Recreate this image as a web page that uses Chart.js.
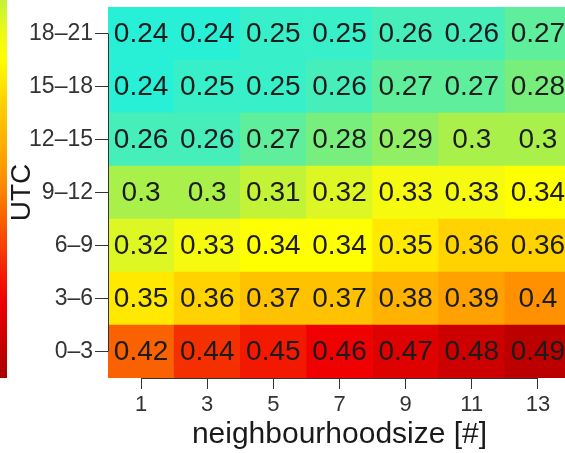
<!DOCTYPE html>
<html>
<head>
<meta charset="utf-8">
<script src="https://cdn.jsdelivr.net/npm/chart.js@4/dist/chart.umd.min.js"></script>
<style>
  html, body { margin: 0; padding: 0; background: #fff; overflow: hidden; }
  #wrap { width: 580px; height: 453px; position: relative; }
</style>
</head>
<body>
<div id="wrap"><canvas id="heat"></canvas></div>
<script>
// Neighbourhood sizes (x) and UTC time bands (y, bottom to top)
const sizes = ['1', '3', '5', '7', '9', '11', '13'];
const utcBands = ['0–3', '3–6', '6–9', '9–12', '12–15', '15–18', '18–21'];

// Score per UTC band, one value per neighbourhood size
const utc0_3   = [0.42, 0.44, 0.45, 0.46, 0.47, 0.48, 0.49];
const utc3_6   = [0.35, 0.36, 0.37, 0.37, 0.38, 0.39, 0.4];
const utc6_9   = [0.32, 0.33, 0.34, 0.34, 0.35, 0.36, 0.36];
const utc9_12  = [0.3, 0.3, 0.31, 0.32, 0.33, 0.33, 0.34];
const utc12_15 = [0.26, 0.26, 0.27, 0.28, 0.29, 0.3, 0.3];
const utc15_18 = [0.24, 0.25, 0.25, 0.26, 0.27, 0.27, 0.28];
const utc18_21 = [0.24, 0.24, 0.25, 0.25, 0.26, 0.26, 0.27];

const rows = [utc0_3, utc3_6, utc6_9, utc9_12, utc12_15, utc15_18, utc18_21];

const FONT = '"Liberation Sans", Arial, Helvetica, sans-serif';

// Colour ramp: cyan -> green -> yellow -> orange -> red -> dark red
const rampStops = [
  [0.24, [40, 240, 215]],
  [0.26, [70, 238, 185]],
  [0.28, [120, 238, 125]],
  [0.30, [170, 240, 75]],
  [0.33, [245, 250, 15]],
  [0.34, [255, 255, 0]],
  [0.36, [255, 210, 0]],
  [0.40, [255, 145, 0]],
  [0.46, [240, 0, 0]],
  [0.50, [170, 0, 0]]
];
function colourFor(v) {
  if (v <= rampStops[0][0]) return `rgb(${rampStops[0][1].join(',')})`;
  for (let k = 1; k < rampStops.length; k++) {
    const [v1, c1] = rampStops[k];
    const [v0, c0] = rampStops[k - 1];
    if (v <= v1) {
      const t = (v - v0) / (v1 - v0);
      const c = c0.map((a, j) => Math.round(a + (c1[j] - a) * t));
      return `rgb(${c.join(',')})`;
    }
  }
  return `rgb(${rampStops[rampStops.length - 1][1].join(',')})`;
}

// Value written in the middle of every cell
const cellLabels = {
  id: 'cellLabels',
  afterDatasetsDraw(chart) {
    const ctx = chart.ctx;
    ctx.save();
    ctx.font = `28px ${FONT}`;
    ctx.fillStyle = '#1c1c1c';
    ctx.textAlign = 'center';
    ctx.textBaseline = 'middle';
    chart.data.datasets.forEach((ds, r) => {
      chart.getDatasetMeta(r).data.forEach((bar, i) => {
        const cy = (bar.y + bar.base) / 2;
        ctx.fillText(String(rows[r][i]), bar.x, cy + 1);
      });
    });
    ctx.restore();
  }
};

// Axis lines running only between the outermost ticks
const axisLines = {
  id: 'axisLines',
  afterDraw(chart) {
    const { ctx, chartArea, scales } = chart;
    const xs = scales.x, ys = scales.y;
    ctx.save();
    ctx.strokeStyle = '#333';
    ctx.lineWidth = 1;
    ctx.beginPath();
    const yTop = ys.getPixelForValue(ys.ticks[ys.ticks.length - 1].value);
    const yBot = ys.getPixelForValue(ys.ticks[0].value);
    ctx.moveTo(chartArea.left + 0.5, yTop);
    ctx.lineTo(chartArea.left + 0.5, yBot);
    const xL = xs.getPixelForValue(0);
    const xR = xs.getPixelForValue(sizes.length - 1);
    ctx.moveTo(xL, chartArea.bottom + 0.5);
    ctx.lineTo(xR, chartArea.bottom + 0.5);
    ctx.stroke();
    ctx.restore();
  }
};

// Narrow colour-scale strip along the left edge
const scaleStrip = {
  id: 'scaleStrip',
  beforeDatasetsDraw(chart) {
    const { ctx, chartArea } = chart;
    const top = 0, bottom = chartArea.bottom;
    const g = ctx.createLinearGradient(0, top, 0, bottom);
    const hi = 0.31, lo = 0.50;
    for (let s = 0; s <= 20; s++) {
      const t = s / 20;
      g.addColorStop(t, colourFor(hi + (lo - hi) * t));
    }
    ctx.save();
    ctx.fillStyle = g;
    ctx.fillRect(0, top, 7, bottom - top);
    ctx.restore();
  }
};

new Chart(document.getElementById('heat'), {
  type: 'bar',
  data: {
    labels: sizes,
    datasets: rows.map((vals, r) => ({
      label: utcBands[r],
      data: vals.map(() => [r, r + 1]),
      backgroundColor: vals.map(colourFor),
      borderWidth: 0,
      grouped: false,
      barPercentage: 1,
      categoryPercentage: 1
    }))
  },
  options: {
    responsive: true,
    maintainAspectRatio: false,
    animation: false,
    devicePixelRatio: 1,
    layout: { padding: { top: 7, right: 9, bottom: 0, left: 0 } },
    plugins: {
      legend: { display: false },
      tooltip: { enabled: false }
    },
    scales: {
      x: {
        type: 'category',
        offset: true,
        grid: {
          display: true,
          drawOnChartArea: false,
          drawTicks: true,
          tickLength: 11,
          color: '#333',
          offset: false
        },
        border: { display: false },
        ticks: {
          font: { family: FONT, size: 22 },
          color: '#333',
          padding: 3,
          maxRotation: 0
        },
        title: {
          display: true,
          text: 'neighbourhoodsize [#]',
          font: { family: FONT, size: 30 },
          color: '#1a1a1a',
          padding: { top: 0, bottom: 0 }
        },
        afterFit(scale) {
          scale.height = 75;
          scale.paddingLeft = 0;
          scale.paddingRight = 0;
        }
      },
      y: {
        type: 'linear',
        min: 0,
        max: 7,
        afterBuildTicks(scale) {
          scale.ticks = utcBands.map((_, i) => ({ value: i + 0.5 }));
        },
        ticks: {
          callback: (value, index) => utcBands[index],
          font: { family: FONT, size: 23 },
          color: '#333',
          padding: 2
        },
        grid: {
          drawOnChartArea: false,
          drawTicks: true,
          tickLength: 13,
          color: '#333'
        },
        border: { display: false },
        title: {
          display: true,
          text: 'UTC',
          font: { family: FONT, size: 28 },
          color: '#1a1a1a',
          padding: { top: 5, bottom: 0 }
        },
        afterFit(scale) {
          scale.width = 108;
          scale.paddingTop = 0;
          scale.paddingBottom = 0;
        }
      }
    }
  },
  plugins: [scaleStrip, cellLabels, axisLines]
});
</script>
</body>
</html>
